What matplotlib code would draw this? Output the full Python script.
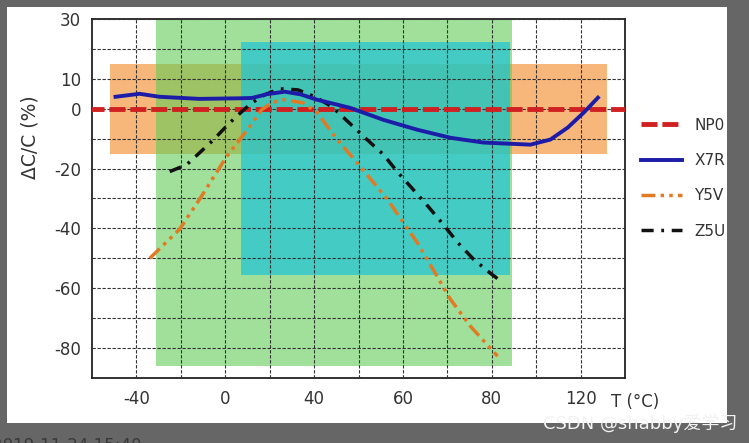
import matplotlib
matplotlib.use("Agg")
import matplotlib.pyplot as plt
from matplotlib.patches import Rectangle

plt.rcParams['font.family'] = ['DejaVu Sans']

# x is in grid units (one grid cell = 10), the printed tick labels are not linear
grid_x = [0, 10, 20, 30, 40, 50, 60, 70, 80, 90, 100]
grid_x_labels = ['-40', '', '0', '', '40', '', '60', '', '80', '', '120']
grid_y = [-80, -70, -60, -50, -40, -30, -20, -10, 0, 10, 20, 30]
grid_y_labels = ['-80', '', '-60', '', '-40', '', '-20', '', '0', '10', '', '30']

# tolerance boxes: (x0, x1, y0, y1)
x7r_box = (-6, 106, -15, 15)
y5v_box = (4.5, 84.5, -86, 31)
z5u_box = (23.5, 84, -55.5, 22.3)

np0_t = [-11, 111]
np0_c = [0, 0]

x7r_t = [-4.7, 0.7, 5.2, 14.2, 23.3, 26.0, 29.5, 33.4, 37.0, 40.7, 44.3, 48.1,
         55.6, 63.2, 70.7, 78.1, 84.2, 88.7, 93.2, 97.1, 100.7, 103.9]
x7r_c = [4.0, 5.0, 4.0, 3.3, 3.5, 3.6, 4.9, 5.7, 4.8, 3.0, 1.7, 0.3,
         -3.7, -7.0, -9.7, -11.3, -11.7, -12.0, -10.3, -6.3, -1.3, 3.7]

y5v_t = [3.0, 9.7, 14.2, 20.3, 25.5, 28.2, 30.5, 33.0, 37.5, 40.7, 45.2,
         50.4, 56.5, 63.2, 67.7, 70.7, 75.2, 81.3]
y5v_c = [-50, -40.3, -30.3, -16, -6, -0.3, 2.0, 3.0, 2.0, -1.3, -10.3,
         -19.3, -30.3, -44.7, -56, -63.7, -72.7, -82.7]

z5u_t = [7.5, 11.3, 13.8, 17.4, 21.0, 23.7, 26.0, 28.9, 32.3, 36.4, 40.2, 44.0,
         47.9, 52.2, 55.6, 58.7, 62.3, 65.7, 69.1, 72.3, 75.9, 79.7, 81.5]
z5u_c = [-21, -18.7, -15.3, -10.3, -4.7, -1, 2, 4.7, 6.7, 6.3, 4, 0.7,
         -4.7, -10.7, -15.3, -21, -27, -32.7, -38.7, -44.7, -50.3, -55, -57]

W, H = 749, 443
fig = plt.figure(figsize=(W / 100, H / 100), dpi=100, facecolor='#666666')

# white sheet inside the grey frame
fig.patches.append(Rectangle((7 / W, 1 - 423 / H), 720 / W, 416 / H,
                             transform=fig.transFigure, facecolor='white',
                             edgecolor='none', zorder=-10))

ax = fig.add_axes([92 / W, 1 - 378 / H, 533 / W, 359 / H])
ax.set_facecolor('none')
ax.set_xlim(-10, 110)
ax.set_ylim(-90, 30)

def add_box(box, color, alpha, z):
    x0, x1, y0, y1 = box
    ax.add_patch(Rectangle((x0, y0), x1 - x0, y1 - y0, facecolor=color,
                           edgecolor='none', alpha=alpha, zorder=z))

add_box(x7r_box, '#f7b77a', 1.0, 1.0)
add_box(y5v_box, '#62cc58', 0.6, 1.1)
add_box(z5u_box, '#20c4d4', 0.72, 1.2)

ax.set_xticks(grid_x)
ax.set_xticklabels(grid_x_labels)
ax.set_yticks(grid_y)
ax.set_yticklabels(grid_y_labels)
ax.tick_params(length=0, labelsize=12, labelcolor='#333333')
ax.tick_params(axis='y', pad=8)
ax.tick_params(axis='x', pad=9)
ax.set_axisbelow(False)
ax.grid(True, color='#333333', linestyle=(0, (3, 1.5)), linewidth=0.8, zorder=1.5)
for s in ax.spines.values():
    s.set_color('#222222')
    s.set_linewidth(1.3)

l_np0, = ax.plot(np0_t, np0_c, color='#d02020', lw=3.5, dashes=(3.3, 1.0),
                 zorder=3, label='NP0')
l_x7r, = ax.plot(x7r_t, x7r_c, color='#1c1ca8', lw=2.8, zorder=4, label='X7R')
l_y5v, = ax.plot(y5v_t, y5v_c, color='#e07a25', lw=2.5,
                 dashes=(4, 1.5, 1, 1.5, 1, 1.5), zorder=3, label='Y5V')
l_z5u, = ax.plot(z5u_t, z5u_c, color='#111111', lw=2.5,
                 dashes=(3.5, 2.2, 0.8, 2.2), zorder=3, label='Z5U')

fig.legend(handles=[l_np0, l_x7r, l_y5v, l_z5u], loc='upper left',
           bbox_to_anchor=(627 / W, 1 - 104 / H), frameon=False,
           fontsize=11, handlelength=2.7, labelspacing=1.33,
           handletextpad=0.8, labelcolor='#333333')

fig.text(30 / W, 1 - 137 / H, 'ΔC/C (%)', rotation=90, ha='center',
         va='center', fontsize=13.5, color='#333333')
fig.text(611 / W, 1 - 402 / H, 'T (°C)', ha='left', va='center',
         fontsize=12, color='#333333')

fig.text(543 / W, 1 - 423 / H, 'CSDN @shabby爱学习', ha='left', va='center',
         fontsize=13, color='#f2f2f2',
         family=['DejaVu Sans', 'Noto Sans CJK SC'])
fig.text(-8 / W, 1 - 437 / H, '2019-11-24 15:40', ha='left', va='top',
         fontsize=12, color='#3a3a3a')

fig.savefig('out.png', dpi=100, facecolor=fig.get_facecolor())
